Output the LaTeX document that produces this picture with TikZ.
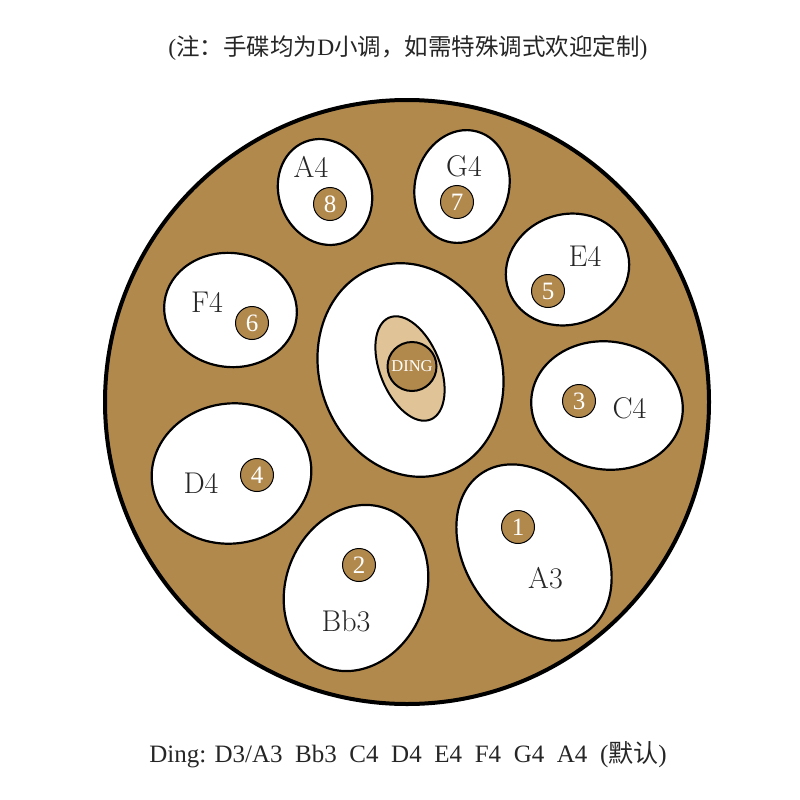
\documentclass[tikz,border=0pt]{standalone}
\usepackage{fontspec}
\usetikzlibrary{shapes.geometric}
\newfontfamily\cjk{Noto Sans CJK SC}
\newfontfamily\lserif{Liberation Serif}
\definecolor{drum}{HTML}{B2894D}
\definecolor{tanfill}{HTML}{E0C498}
\definecolor{ink}{HTML}{262626}
\tikzset{
  field/.style={ellipse, draw=black, line width=2.2pt, fill=white, inner sep=0pt},
  dot/.style={circle, draw=black, line width=1pt, fill=drum, minimum size=33pt, inner sep=0pt, text=white, font=\lserif\fontsize{25}{25}\selectfont},
  note/.style={inner sep=0pt, text=ink, font=\fontsize{30}{30}\selectfont},
  caption/.style={inner sep=0pt, text=ink},
}
\begin{document}
\begin{tikzpicture}[x=1pt,y=-1pt]
\useasboundingbox (0,0) rectangle (800,800);
\fill[white] (0,0) rectangle (800,800);
% drum body
\node[circle, draw=black, line width=4pt, fill=drum, minimum size=604pt, inner sep=0pt] (disc) at (407,402) {};
% central field
\node[field, minimum width=182pt, minimum height=217pt, rotate=19] (centre) at (410.5,370) {};
\node[ellipse, draw=black, line width=2pt, fill=tanfill, minimum width=60pt, minimum height=110pt, rotate=22, inner sep=0pt] (dome) at (410,368.5) {};
\node[circle, draw=black, line width=2pt, fill=drum, minimum size=49pt, inner sep=0pt, text=white, font=\lserif\fontsize{16.5}{16.5}\selectfont] (ding) at (412,366.5) {DING};
% tone fields
\node[field, minimum width=92pt, minimum height=108pt, rotate=22] (f8) at (325,192) {};
\node[field, minimum width=94pt, minimum height=114pt, rotate=-15] (f7) at (462,186.5) {};
\node[field, minimum width=125pt, minimum height=110pt, rotate=20] (f5) at (567.5,269.5) {};
\node[field, minimum width=133pt, minimum height=114pt, rotate=-7] (f6) at (230.5,310) {};
\node[field, minimum width=152pt, minimum height=128pt, rotate=-8] (f3) at (607,405.5) {};
\node[field, minimum width=160pt, minimum height=140pt, rotate=8] (f4) at (231.5,473.5) {};
\node[field, minimum width=140pt, minimum height=170pt, rotate=-22] (f2) at (356,588) {};
\node[field, minimum width=138pt, minimum height=190pt, rotate=33] (f1) at (534,552.5) {};
% numbered dots
\node[dot] (d1) at (518,527) {1};
\node[dot] (d2) at (359,565) {2};
\node[dot] (d3) at (579,401) {3};
\node[dot] (d4) at (257,475) {4};
\node[dot] (d5) at (548,291) {5};
\node[dot] (d6) at (252,323) {6};
\node[dot] (d7) at (457,202) {7};
\node[dot] (d8) at (330,204) {8};
% note names
\node[note] (n8) at (311,166.5) {A4};
\node[note] (n7) at (464,166) {G4};
\node[note] (n5) at (585,256) {E4};
\node[note] (n6) at (207,302.5) {F4};
\node[note] (n3) at (629.5,408) {C4};
\node[note] (n4) at (201,483) {D4};
\node[note] (n2) at (346,621.5) {Bb3};
\node[note] (n1) at (545.5,578) {A3};
% captions
\node[caption, font=\lserif\fontsize{23.5}{23.5}\selectfont] (top) at (408,48)
  {(\cjk 注：手碟均为\lserif D\cjk 小调，如需特殊调式欢迎定制\lserif)};
\node[caption, font=\lserif\fontsize{25}{25}\selectfont] (bottom) at (408,755)
  {Ding: D3/A3\hspace{12.6pt}Bb3\hspace{12.6pt}C4\hspace{12.6pt}D4\hspace{12.6pt}E4\hspace{12.6pt}F4\hspace{12.6pt}G4\hspace{12.6pt}A4\hspace{12.6pt}({\cjk 默认})};
\end{tikzpicture}
\end{document}
